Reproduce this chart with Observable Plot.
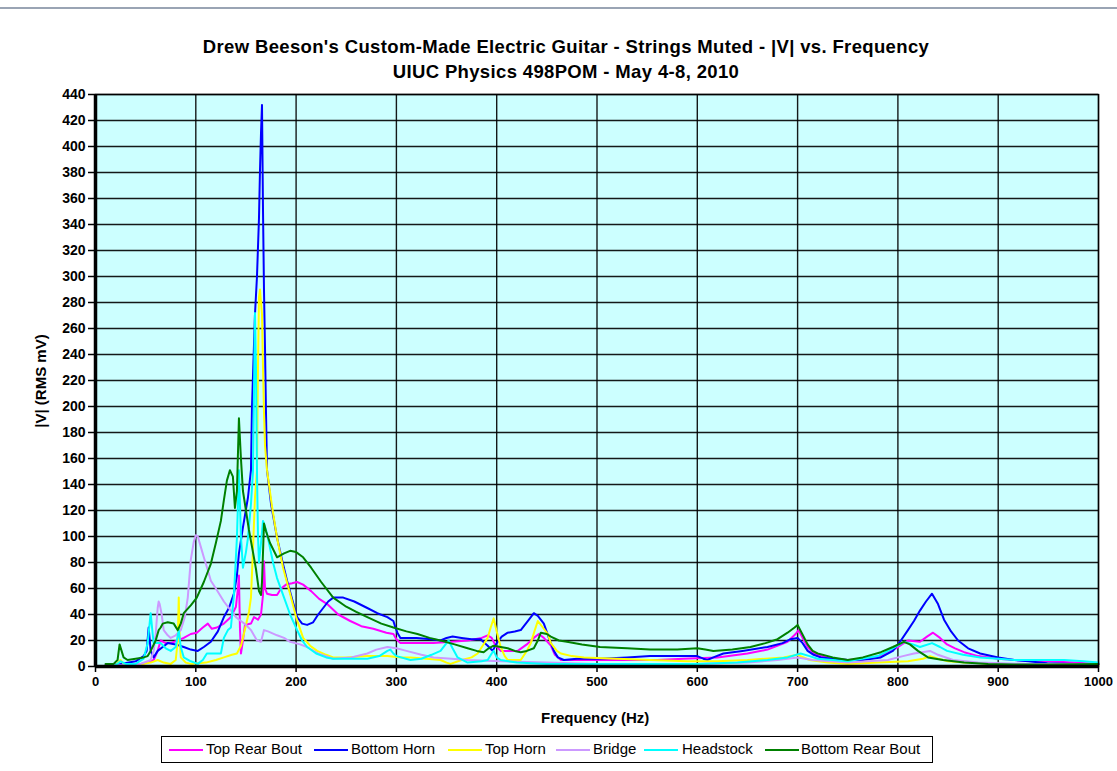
<!DOCTYPE html>
<html>
<head>
<meta charset="utf-8">
<script src="https://cdn.jsdelivr.net/npm/d3@7"></script>
<script src="https://cdn.jsdelivr.net/npm/@observablehq/plot@0.6"></script>
<style>
  html, body { margin: 0; padding: 0; background: #fff; }
  #wrap { position: relative; width: 1117px; height: 771px; font-family: "Liberation Sans", Arial, sans-serif; overflow: hidden; }
  #topline { position: absolute; left: 0; top: 7px; width: 1117px; height: 2px; background: #9aa4b4; }
  .title { position: absolute; left: 0; width: 1132px; text-align: center; font-weight: bold; font-size: 18.5px; letter-spacing: 0.35px; color: #000; line-height: 22px; }
  .axlabel { position: absolute; font-weight: bold; font-size: 15px; color: #000; white-space: nowrap; line-height: 18px; }
  #legend { position: absolute; left: 161px; top: 736px; width: 770px; height: 25px; border: 1px solid #000; background: #fff; font-size: 15px; white-space: nowrap; }
  #legend .sw { position: absolute; top: 12px; height: 2px; }
  #legend .tx { position: absolute; top: 3px; line-height: 18px; }
</style>
</head>
<body>
<div id="wrap">
  <div id="topline"></div>
  <div class="title" style="top: 36px;">Drew Beeson's Custom-Made Electric Guitar - Strings Muted - |V| vs. Frequency</div>
  <div class="title" style="top: 61px;">UIUC Physics 498POM -  May 4-8, 2010</div>
  <div class="axlabel" style="left: 541px; top: 709px;">Frequency (Hz)</div>
  <div class="axlabel" style="left: 41px; top: 381px; transform: translate(-50%, -50%) rotate(-90deg);">|V| (RMS mV)</div>
  <div id="legend"></div>
</div>
<script>
// ---- data ----
const seriesNames = ["Top Rear Bout", "Bottom Horn", "Top Horn", "Bridge", "Headstock", "Bottom Rear Bout"];
const seriesColors = ["#ff00ff", "#0000ff", "#ffff00", "#cc99ff", "#00ffff", "#008000"];
const xTicks = [0, 100, 200, 300, 400, 500, 600, 700, 800, 900, 1000];
const yTicks = [0, 20, 40, 60, 80, 100, 120, 140, 160, 180, 200, 220, 240, 260, 280, 300, 320, 340, 360, 380, 400, 420, 440];

const topRearBout = [[10,1],[30,1],[45,2],[52,3],[58,5],[62,12],[65,20],[70,18],[75,18],[82,20],[88,22],[95,25],[101,26],[107,30],[112,33],[116,29],[121,30],[128,33],[135,38],[140,46],[142,60],[143,70],[144,30],[145,10],[147,20],[149,32],[155,33],[158,38],[162,36],[165,40],[167,55],[168,81],[169,60],[171,56],[176,55],[181,55],[185,60],[190,63],[196,64],[201,65],[207,63],[215,58],[223,52],[231,48],[242,40],[254,35],[265,31],[277,29],[290,26],[297,25],[300,21],[304,18],[320,18],[337,18],[355,19],[371,20],[385,22],[391,24],[395,22],[399,16],[404,12],[415,12],[421,12],[430,17],[437,22],[442,25],[447,22],[454,16],[458,9],[464,5],[490,5],[520,5],[560,5],[586,6],[620,7],[650,10],[670,13],[690,19],[698,25],[701,28],[705,22],[710,15],[716,10],[723,8],[735,6],[750,5],[765,6],[783,8],[798,14],[810,20],[822,19],[829,23],[835,26],[842,22],[849,17],[857,14],[866,11],[880,8],[900,6],[916,5],[950,4],[975,3],[1000,2]];

const bottomHorn = [[10,1],[25,2],[40,4],[48,8],[51,12],[53,30],[55,12],[58,7],[62,12],[67,15],[72,18],[80,17],[88,15],[95,13],[102,12],[108,15],[115,19],[122,27],[128,38],[133,45],[138,56],[141,70],[143,87],[147,107],[152,130],[155,151],[156,199],[159,271],[161,300],[163,345],[164,382],[165,410],[166,432],[167,351],[168,289],[169,245],[170,195],[171,151],[175,125],[181,99],[186,82],[191,66],[196,52],[201,38],[206,33],[211,32],[217,34],[222,40],[227,45],[232,50],[237,53],[247,53],[258,50],[271,45],[281,41],[291,38],[297,35],[299,30],[301,26],[304,22],[320,22],[335,21],[344,20],[350,22],[356,23],[365,22],[375,21],[384,21],[388,18],[391,16],[396,12],[400,18],[405,23],[411,26],[418,27],[424,28],[430,34],[435,39],[437,41],[441,39],[447,33],[452,22],[457,12],[461,7],[467,5],[480,6],[503,6],[530,7],[553,8],[580,8],[600,8],[606,6],[610,5],[616,7],[626,10],[645,12],[670,15],[685,18],[693,21],[700,22],[705,18],[710,12],[716,9],[723,7],[735,6],[750,5],[765,5],[783,7],[795,12],[803,20],[810,28],[816,35],[822,43],[828,50],[834,56],[840,48],[846,36],[853,27],[860,20],[870,14],[882,10],[900,7],[916,5],[930,4],[949,2.5],[975,2],[1000,1.5]];

const topHorn = [[10,0.5],[20,1],[25,5],[28,2],[40,1],[55,3],[62,5],[68,3],[75,2],[80,5],[82,20],[83,53],[84,20],[85,7],[90,3],[95,2],[110,3],[120,5],[128,7],[136,9],[141,10],[145,16],[147,22],[150,32],[153,42],[155,53],[157,90],[159,130],[161,151],[162,230],[163,284],[164,290],[165,280],[166,271],[167,230],[168,195],[169,170],[171,151],[176,123],[181,99],[187,76],[194,56],[200,38],[207,22],[214,16],[221,12],[230,9],[237,7],[250,7],[271,8],[291,8],[305,7],[314,7],[330,6],[344,5],[350,3],[354,2],[365,5],[375,7],[381,10],[386,16],[391,22],[394,30],[397,37],[400,27],[404,15],[408,8],[411,5],[424,5],[430,12],[434,18],[438,28],[441,35],[446,30],[451,25],[454,18],[460,12],[464,10],[475,8],[487,7],[520,6],[553,5],[590,4],[620,4],[650,5],[686,7],[700,9],[712,5],[730,3],[750,2],[780,3],[810,4],[825,6],[832,8],[840,6],[850,4],[866,3],[900,2],[950,1],[1000,1]];

const bridge = [[10,1],[30,1],[45,2],[55,5],[58,12],[60,25],[62,45],[63,50],[64,48],[66,40],[68,28],[72,24],[75,22],[80,24],[85,28],[89,38],[92,53],[95,82],[98,96],[100,101],[102,100],[105,92],[108,84],[112,74],[115,66],[120,60],[128,50],[135,43],[140,38],[145,35],[150,32],[155,28],[158,24],[161,20],[165,19],[168,28],[172,27],[181,24],[188,22],[194,19],[204,17],[211,15],[222,10],[237,6],[255,7],[271,10],[280,13],[291,15],[300,14],[310,12],[325,9],[337,7],[355,6],[371,5],[404,4],[450,3],[500,2],[600,2],[650,3],[680,5],[700,7],[715,5],[750,3],[790,5],[805,8],[816,10],[832,12],[840,9],[855,5],[880,3],[930,2],[1000,2]];

const headstock = [[10,0.5],[20,1],[25,4],[30,2],[40,2],[48,6],[52,18],[55,41],[57,25],[58,18],[62,18],[65,18],[70,14],[75,12],[80,15],[83,28],[85,15],[88,7],[95,4],[102,2],[107,5],[111,10],[118,10],[125,10],[128,22],[132,28],[135,30],[138,55],[141,99],[143,151],[145,100],[147,76],[150,88],[152,99],[155,125],[157,150],[158,210],[159,272],[160,230],[161,150],[162,100],[163,80],[165,95],[167,112],[170,105],[173,95],[177,80],[181,68],[188,53],[194,40],[201,28],[206,20],[211,15],[220,10],[230,7],[237,6],[255,6],[271,6],[283,8],[291,12],[294,13],[297,10],[300,8],[314,5],[325,6],[335,9],[344,12],[349,17],[352,20],[356,14],[361,7],[371,3],[385,4],[391,5],[395,10],[397,12],[400,7],[404,5],[420,3],[450,2],[500,2],[600,2],[640,3],[670,5],[690,7],[703,10],[712,8],[720,6],[750,4],[780,8],[795,14],[806,19],[815,17],[822,15],[834,18],[842,15],[849,12],[865,9],[882,7],[900,6],[916,5],[940,5],[966,5],[985,4],[1000,3]];

const bottomRearBout = [[10,2],[18,2],[22,5],[24,17],[26,12],[28,7],[32,5],[40,6],[48,7],[52,8],[55,12],[60,20],[63,28],[65,30],[67,33],[72,34],[78,33],[82,28],[85,33],[88,41],[95,47],[101,53],[108,65],[115,79],[120,95],[125,112],[128,128],[131,143],[134,151],[137,146],[139,122],[141,135],[143,191],[145,160],[147,135],[150,120],[153,105],[157,88],[160,75],[163,58],[165,55],[166,65],[168,110],[170,104],[174,95],[181,84],[188,87],[194,89],[200,88],[207,84],[215,76],[225,65],[237,53],[250,46],[260,42],[271,38],[285,33],[297,30],[310,27],[321,25],[333,22],[344,20],[358,17],[371,14],[380,12],[387,11],[392,14],[397,16],[404,15],[411,14],[418,12],[424,11],[430,12],[437,14],[441,20],[444,26],[450,25],[454,23],[462,20],[470,19],[485,17],[503,15],[530,14],[553,13],[580,13],[600,14],[608,13],[616,12],[635,13],[653,15],[668,18],[680,21],[690,26],[697,30],[700,32],[704,26],[710,17],[715,12],[720,10],[735,7],[750,5],[765,7],[783,11],[795,15],[806,19],[812,17],[820,12],[830,7],[845,5],[866,3],[890,2],[916,1.5],[950,1.5],[1000,2]];

const seriesData = [topRearBout, bottomHorn, topHorn, bridge, headstock, bottomRearBout];

// ---- build table ----
const rows = [];
seriesData.forEach((arr, i) => arr.forEach(([f, v]) => rows.push({series: seriesNames[i], f, v})));

const chart = Plot.plot({
  width: 1117,
  height: 771,
  marginLeft: 95,
  marginRight: 19,
  marginTop: 94,
  marginBottom: 105,
  style: {fontFamily: "'Liberation Sans', Arial, sans-serif", fontSize: "13px", background: "transparent", overflow: "visible"},
  x: {domain: [0, 1000], label: null},
  y: {domain: [0, 440], label: null},
  color: {domain: seriesNames, range: seriesColors},
  marks: [
    Plot.frame({fill: "#ccffff", stroke: null}),
    Plot.ruleX(xTicks, {stroke: "#000", strokeOpacity: 0.9, strokeWidth: 1.4}),
    Plot.ruleY(yTicks, {stroke: "#000", strokeOpacity: 0.9, strokeWidth: 1.4}),
    Plot.line(rows, {x: "f", y: "v", z: "series", stroke: "series", strokeWidth: 2, curve: "linear"}),
    Plot.frame({stroke: "#000", strokeWidth: 1.4}),
    Plot.ruleX([0], {stroke: "#000", strokeWidth: 3.5}),
    Plot.ruleY([0], {stroke: "#000", strokeWidth: 3.5}),
    Plot.axisX(xTicks, {tickSize: 6, tickPadding: 4, fontWeight: "bold", fontSize: 13, strokeWidth: 1.5, tickFormat: d => String(d), label: null}),
    Plot.axisY(yTicks, {tickSize: 7, tickPadding: 3, fontWeight: "bold", fontSize: 14, strokeWidth: 1.5, tickFormat: d => String(d), label: null})
  ]
});
chart.style.position = "absolute";
chart.style.left = "0px";
chart.style.top = "0px";
const wrap = document.getElementById("wrap");
wrap.insertBefore(chart, document.getElementById("legend"));

// legend
const legend = document.getElementById("legend");
const swatchX = [7, 152, 286, 394, 482, 603];
const textX = [44, 189, 323, 431, 520, 639];
seriesNames.forEach((name, i) => {
  const sw = document.createElement("span");
  sw.className = "sw";
  sw.style.left = swatchX[i] + "px";
  sw.style.width = "34px";
  sw.style.background = seriesColors[i];
  legend.appendChild(sw);
  const tx = document.createElement("span");
  tx.className = "tx";
  tx.style.left = textX[i] + "px";
  tx.textContent = name;
  legend.appendChild(tx);
});
</script>
</body>
</html>
